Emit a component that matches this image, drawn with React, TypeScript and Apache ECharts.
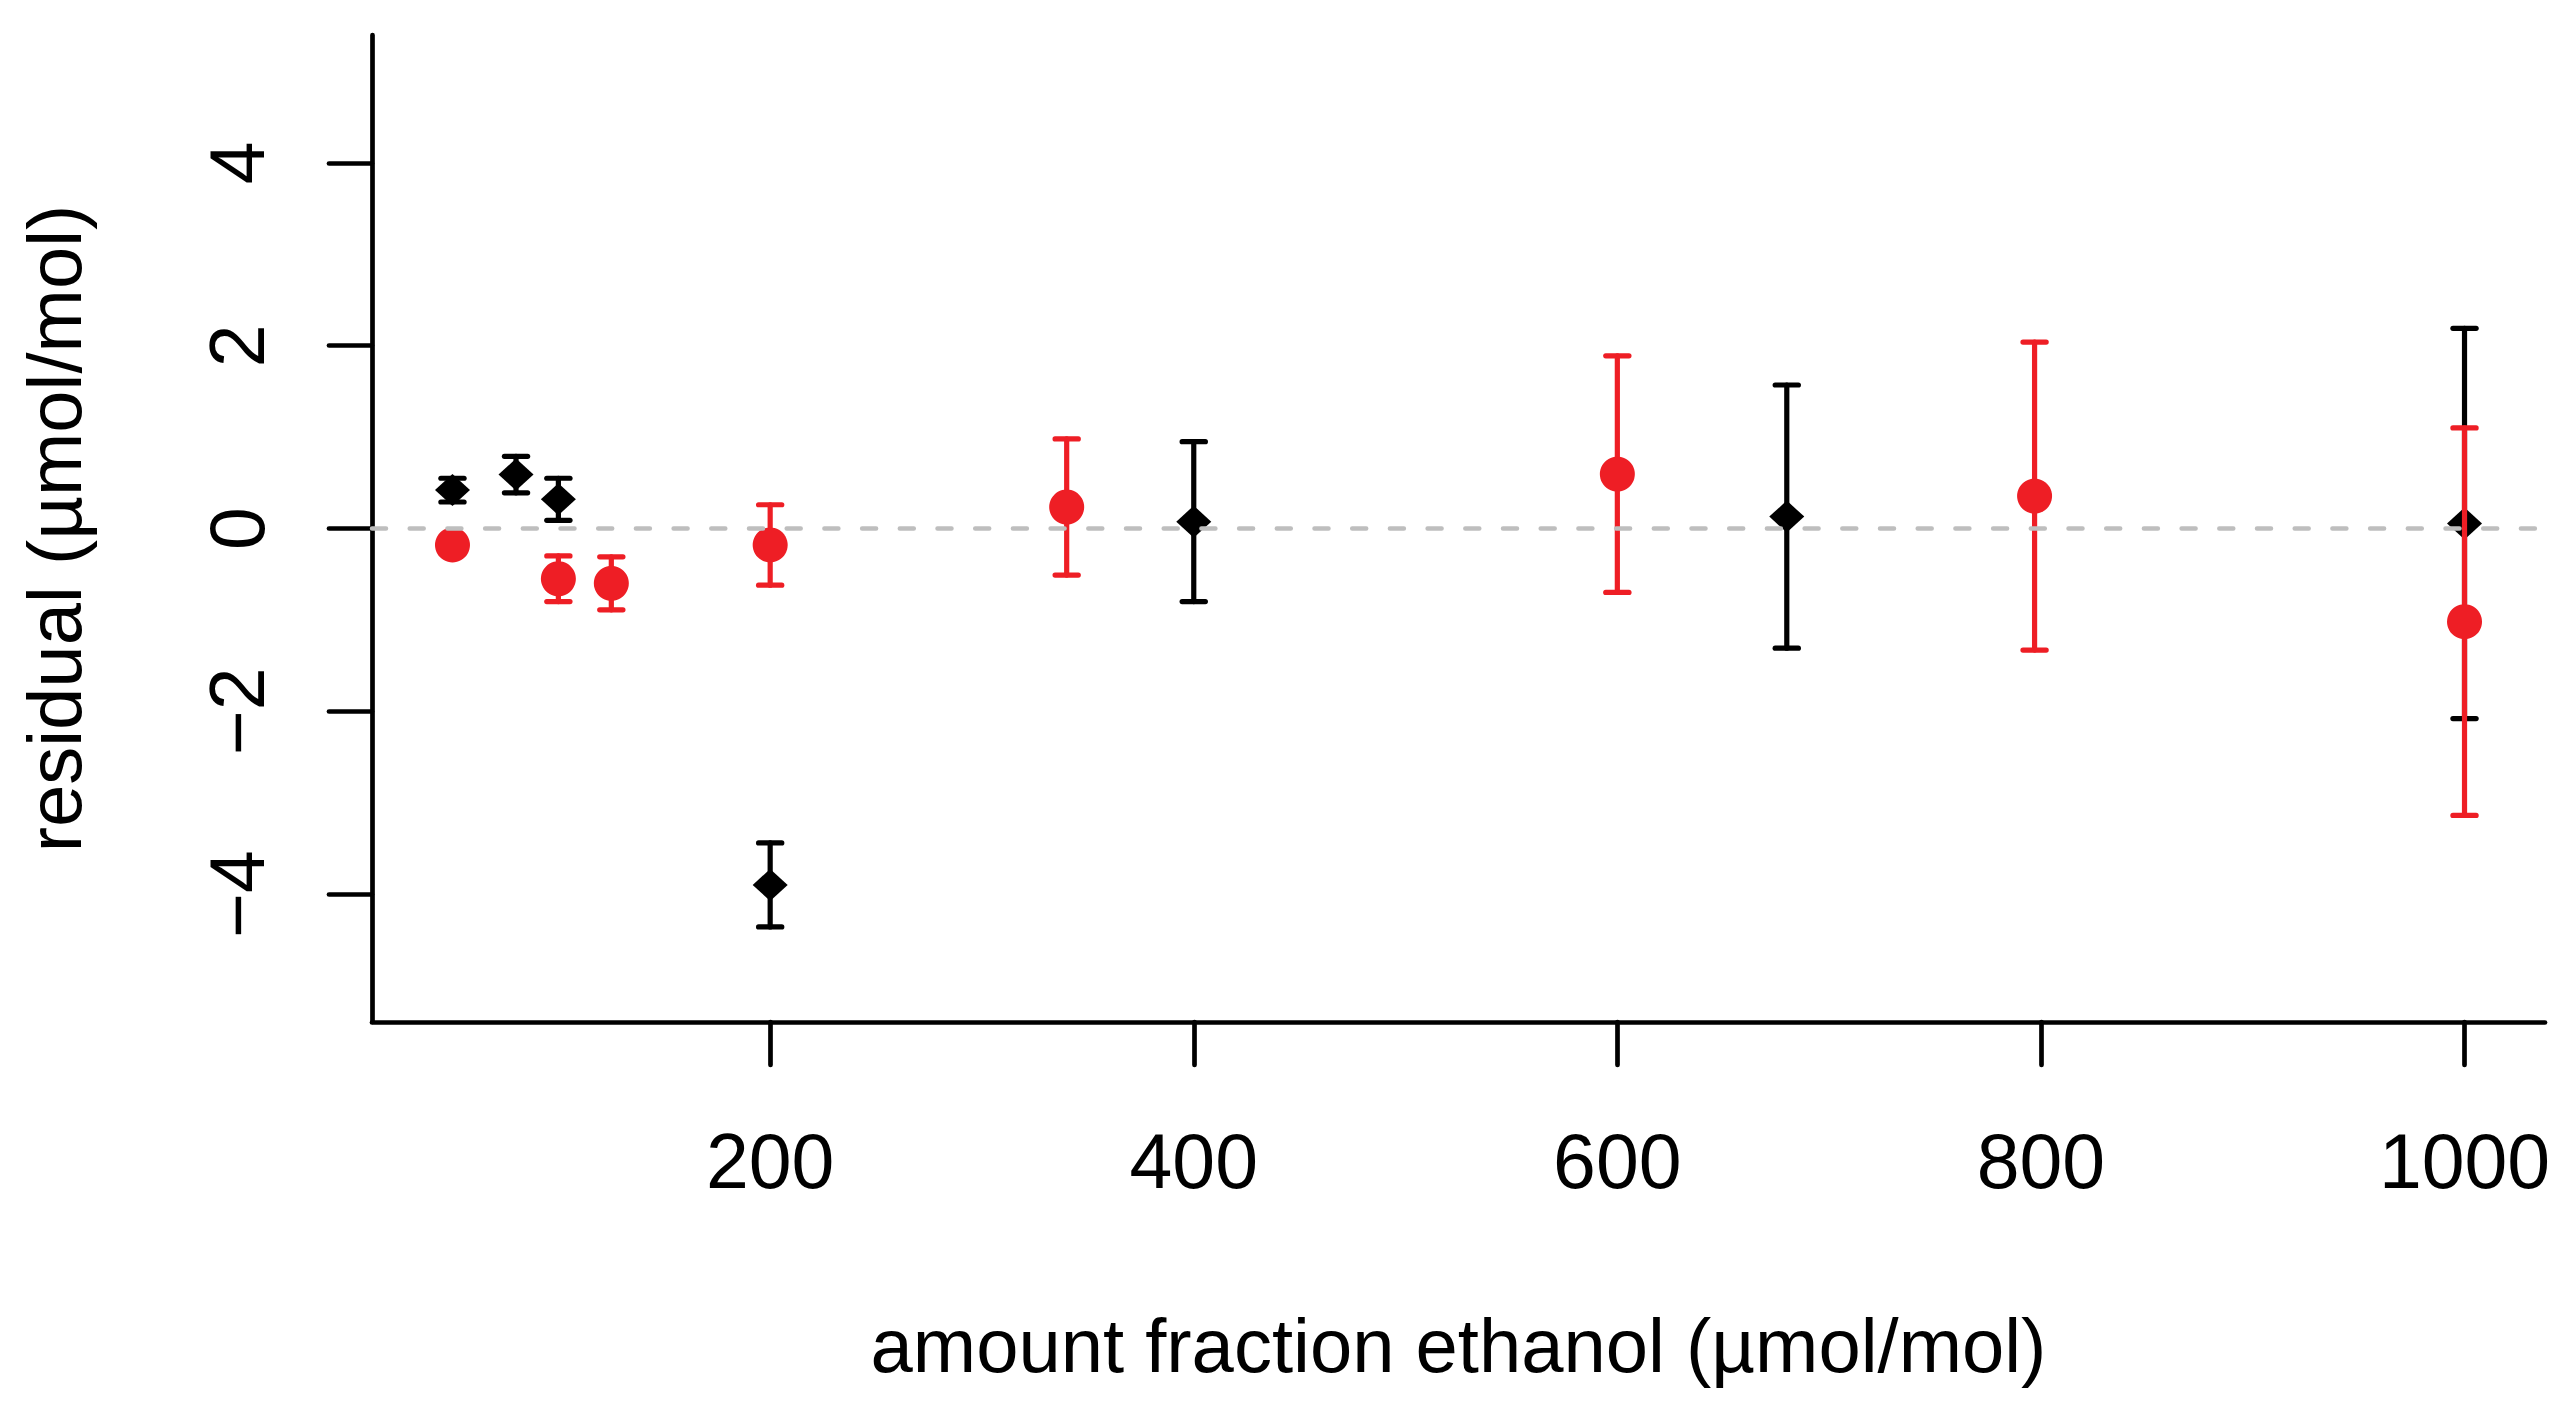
import { useEffect, useRef } from 'react'
import * as echarts from 'echarts'

// Amount fraction of ethanol (µmol/mol) and residuals with their uncertainties
const BLACK_X = [50, 80, 100, 200, 400, 680, 1000]
const BLACK_Y = [0.42, 0.59, 0.32, -3.9, 0.075, 0.13, 0.055]
const BLACK_U = [0.13, 0.2, 0.23, 0.46, 0.875, 1.44, 2.135]

const RED_X = [50, 100, 125, 200, 340, 600, 797, 1000]
const RED_Y = [-0.18, -0.55, -0.6, -0.18, 0.235, 0.595, 0.355, -1.02]
const RED_U = [0.08, 0.25, 0.29, 0.44, 0.745, 1.295, 1.685, 2.12]

const X_TICKS = [200, 400, 600, 800, 1000]
const Y_TICKS = [-4, -2, 0, 2, 4]
const ZERO_REF = 0

// R-style 4% extension around the data range
const X_MIN = 12
const X_MAX = 1038
const Y_MIN = -5.4
const Y_MAX = 5.4

const RED = '#EE1E25'
const BLACK = '#000000'
const FONT = '"Liberation Sans", Arial, sans-serif'

const errorBars = (color: string) => (params: any, api: any) => {
  const x = api.value(0)
  const y = api.value(1)
  const u = api.value(2)
  const top = api.coord([x, y + u])
  const bot = api.coord([x, y - u])
  const half = 11.6
  const style = { stroke: color, lineWidth: 5.2, lineCap: 'round' }
  return {
    type: 'group',
    children: [
      { type: 'line', shape: { x1: top[0], y1: top[1], x2: bot[0], y2: bot[1] }, style },
      { type: 'line', shape: { x1: top[0] - half, y1: top[1], x2: top[0] + half, y2: top[1] }, style },
      { type: 'line', shape: { x1: bot[0] - half, y1: bot[1], x2: bot[0] + half, y2: bot[1] }, style },
    ],
  }
}

const App: React.FC = () => {
  const chartRef = useRef<HTMLDivElement | null>(null)

  useEffect(() => {
    if (!chartRef.current) return
    const chart = echarts.init(chartRef.current, null, { renderer: 'svg' })

    const axisLine = { show: true, onZero: false, lineStyle: { color: BLACK, width: 4.7, cap: 'round' } }
    const axisTick = { show: true, inside: false, length: 43, lineStyle: { color: BLACK, width: 4.7, cap: 'round' } }

    const option: any = {
      animation: false,
      backgroundColor: '#ffffff',
      grid: { left: 372, right: 29, top: 35, bottom: 390, containLabel: false },
      xAxis: {
        type: 'value',
        min: X_MIN,
        max: X_MAX,
        name: 'amount fraction ethanol (µmol/mol)',
        nameLocation: 'middle',
        nameGap: 285,
        nameTextStyle: { fontFamily: FONT, fontSize: 76, color: BLACK },
        axisLine,
        axisTick: { ...axisTick, customValues: X_TICKS },
        axisLabel: {
          customValues: X_TICKS,
          margin: 100,
          fontFamily: FONT,
          fontSize: 77,
          color: BLACK,
          formatter: (v: number) => String(v),
        },
        splitLine: { show: false },
      },
      yAxis: {
        type: 'value',
        min: Y_MIN,
        max: Y_MAX,
        name: 'residual (µmol/mol)',
        nameLocation: 'middle',
        nameGap: 280,
        nameTextStyle: { fontFamily: FONT, fontSize: 76, color: BLACK },
        axisLine,
        axisTick: { ...axisTick, customValues: Y_TICKS },
        axisLabel: {
          customValues: Y_TICKS,
          rotate: 90,
          margin: 97,
          fontFamily: FONT,
          fontSize: 77,
          color: BLACK,
          formatter: (v: number) => String(v).replace('-', '\u2212'),
        },
        splitLine: { show: false },
      },
      series: [
        {
          type: 'custom',
          z: 2,
          renderItem: errorBars(BLACK),
          data: BLACK_X.map((x, i) => [x, BLACK_Y[i], BLACK_U[i]]),
          encode: { x: 0, y: 1 },
        },
        {
          type: 'scatter',
          z: 3,
          symbol: 'diamond',
          symbolSize: [35, 32],
          itemStyle: { color: BLACK, opacity: 1 },
          data: BLACK_X.map((x, i) => [x, BLACK_Y[i]]),
        },
        {
          type: 'custom',
          z: 4,
          renderItem: errorBars(RED),
          data: RED_X.map((x, i) => [x, RED_Y[i], RED_U[i]]),
          encode: { x: 0, y: 1 },
        },
        {
          type: 'scatter',
          z: 5,
          symbol: 'circle',
          symbolSize: 35,
          itemStyle: { color: RED, opacity: 1 },
          data: RED_X.map((x, i) => [x, RED_Y[i]]),
        },
        {
          // dashed zero reference line across the plot region
          type: 'custom',
          z: 10,
          silent: true,
          data: [[X_MIN, ZERO_REF]],
          encode: { x: 0, y: 1 },
          renderItem: (params: any, api: any) => {
            const cs = params.coordSys
            const y = api.coord([X_MIN, api.value(1)])[1]
            return {
              type: 'line',
              shape: { x1: cs.x, y1: y, x2: cs.x + cs.width, y2: y },
              style: { stroke: '#BEBEBE', lineWidth: 4.5, lineCap: 'round', lineDash: [14, 23.7] },
            }
          },
        },
      ],
    }

    chart.setOption(option)

    return () => {
      chart.dispose()
    }
  }, [])

  return (
    <div
      ref={chartRef}
      style={{ position: 'absolute', left: 0, top: 0, width: 2574, height: 1412, background: '#ffffff' }}
    />
  )
}

export default App
